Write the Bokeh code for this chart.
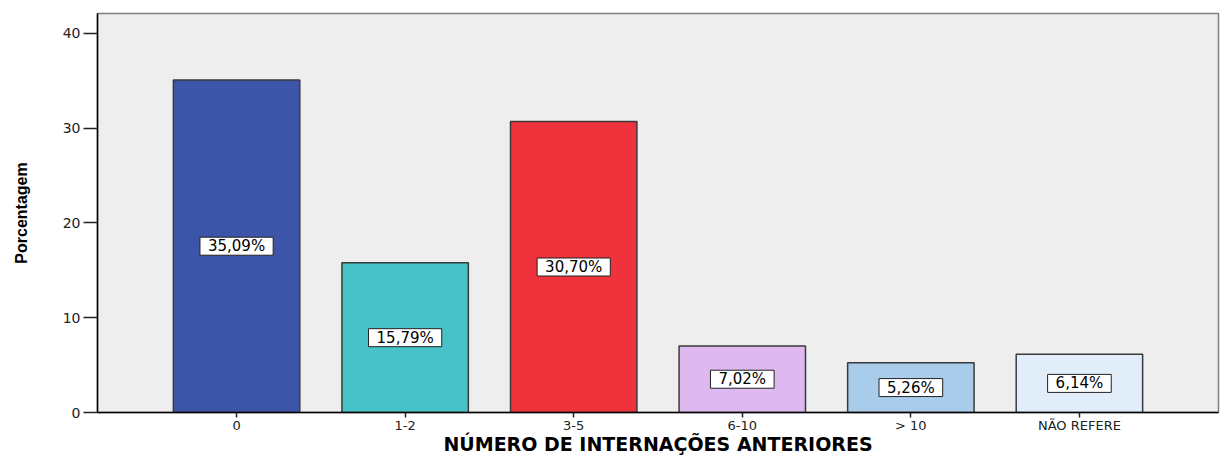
from bokeh.plotting import figure
from bokeh.models import ColumnDataSource, FactorRange, Range1d, FixedTicker
from bokeh.embed import file_html
from bokeh.resources import INLINE
from bokeh.core.properties import value

categories = ["0", "1-2", "3-5", "6-10", "> 10", "NÃO REFERE"]
percentages = [35.09, 15.79, 30.70, 7.02, 5.26, 6.14]
bar_labels = ["35,09%", "15,79%", "30,70%", "7,02%", "5,26%", "6,14%"]
bar_colors = ["#3D55A8", "#48C2C6", "#EF323B", "#DDB9EF", "#A9CCEB", "#E1EDF9"]
y_ticks = [0, 10, 20, 30, 40]
x_title = "NÚMERO DE INTERNAÇÕES ANTERIORES"
y_title = "Porcentagem"

source = ColumnDataSource(dict(
    cat=categories,
    val=percentages,
    half=[v / 2 for v in percentages],
    lab=bar_labels,
    color=bar_colors,
))

p = figure(
    x_range=FactorRange(factors=categories, range_padding=0.65 / 6, range_padding_units="percent"),
    y_range=Range1d(0, 42.1),
    width=1222, height=457,
    min_border_left=97, min_border_right=4, min_border_top=13, min_border_bottom=44,
    output_backend="svg", toolbar_location=None,
)
p.background_fill_color = "#EEEEEE"
p.border_fill_color = "white"
p.outline_line_color = "#808080"
p.outline_line_width = 1.5
p.grid.visible = False

p.vbar(x="cat", top="val", width=0.75, source=source,
       fill_color="color", line_color="#3A3A3A", line_width=1.5)

p.text(x="cat", y="half", text="lab", source=source,
       text_align="center", text_baseline="middle",
       text_font=value("DejaVu Sans"), text_font_size="15px", text_color="black",
       background_fill_color="white", border_line_color="#222222", border_line_width=1,
       padding=(8, 0))

# y axis
p.yaxis.ticker = FixedTicker(ticks=y_ticks)
p.yaxis.axis_label = y_title
p.yaxis.axis_label_text_font = "Liberation Sans"
p.yaxis.axis_label_text_font_style = "bold"
p.yaxis.axis_label_text_font_size = "16px"
p.yaxis.axis_label_text_color = "black"
p.yaxis.axis_label_standoff = 30
p.yaxis.major_label_text_font = "DejaVu Sans"
p.yaxis.major_label_text_font_size = "14px"
p.yaxis.major_label_text_color = "#222222"
p.yaxis.major_label_standoff = 3
p.yaxis.major_tick_out = 14
p.yaxis.major_tick_in = 0
p.yaxis.minor_tick_out = 0
p.yaxis.minor_tick_in = 0
p.yaxis.axis_line_color = "black"
p.yaxis.axis_line_width = 1.5
p.yaxis.major_tick_line_color = "#222222"
p.yaxis.major_tick_line_width = 1.5

# x axis
p.xaxis.axis_label = x_title
p.xaxis.axis_label_text_font = "DejaVu Sans"
p.xaxis.axis_label_text_font_style = "bold"
p.xaxis.axis_label_text_font_size = "19px"
p.xaxis.axis_label_text_color = "black"
p.xaxis.axis_label_standoff = -3
p.xaxis.major_label_text_font = "DejaVu Sans"
p.xaxis.major_label_text_font_size = "13px"
p.xaxis.major_label_text_color = "#222222"
p.xaxis.major_label_standoff = 0
p.xaxis.major_tick_out = 5
p.xaxis.major_tick_in = 0
p.xaxis.axis_line_color = "black"
p.xaxis.axis_line_width = 1.5
p.xaxis.major_tick_line_color = "#222222"
p.xaxis.major_tick_line_width = 1.5

open("out.html", "w").write(file_html(p, INLINE))
